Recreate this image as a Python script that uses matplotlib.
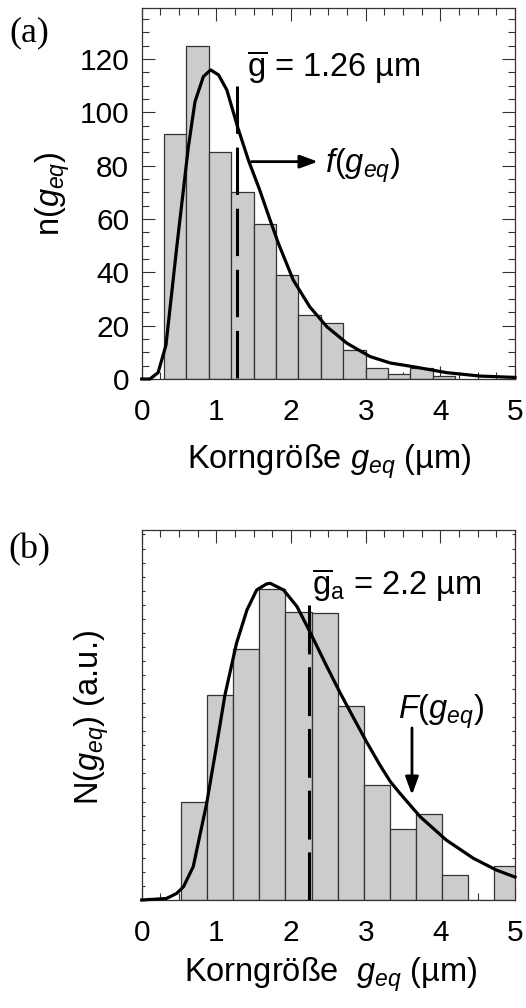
import matplotlib
matplotlib.use("Agg")
import matplotlib.pyplot as plt
from matplotlib.ticker import MultipleLocator, NullFormatter

plt.rcParams['font.family'] = ['Liberation Sans', 'DejaVu Sans']
plt.rcParams['mathtext.fontset'] = 'custom'
plt.rcParams['mathtext.rm'] = 'Liberation Sans'
plt.rcParams['mathtext.it'] = 'Liberation Sans:italic'
plt.rcParams['mathtext.bf'] = 'Liberation Sans:bold'

# ---------------- data panel (a) ----------------
bins_a_left = [0.3, 0.6, 0.9, 1.2, 1.5, 1.8, 2.1, 2.4, 2.7, 3.0, 3.3, 3.6, 3.9]
counts_a = [92, 125, 85, 70, 58, 39, 24, 21, 11, 4, 2, 4, 1]
bin_width_a = 0.3
fit_a_x = [0.0, 0.11, 0.22, 0.325, 0.47, 0.625, 0.714, 0.826, 0.924, 1.03, 1.14,
           1.29, 1.43, 1.58, 1.72, 1.83, 2.03, 2.25, 2.48, 2.75, 3.06, 3.33,
           3.64, 4.08, 4.53, 5.0]
fit_a_y = [0.0, 0.0, 2.4, 12.7, 49.6, 87.0, 104.0, 113.4, 115.9, 114.0, 108.4,
           94.0, 82.0, 70.9, 59.6, 50.9, 37.1, 27.1, 19.6, 13.4, 8.4, 6.0,
           4.6, 2.4, 1.1, 0.6]
mean_a_x = 1.28
mean_a_top = 110

# ---------------- data panel (b) ----------------
bins_b_left = [0.525, 0.875, 1.225, 1.575, 1.925, 2.275, 2.625, 2.975, 3.325,
               3.675, 4.025, 4.375, 4.725]
counts_b = [26.4, 55.4, 67.8, 84.1, 77.9, 77.7, 52.3, 31.1, 19.1, 23.2, 6.8, 0.0, 9.3]
bin_width_b = 0.35
fit_b_x = [0.0, 0.33, 0.47, 0.56, 0.69, 0.87, 1.0, 1.115, 1.27, 1.41, 1.54, 1.67,
           1.72, 1.90, 2.08, 2.24, 2.48, 2.66, 2.83, 3.01, 3.19, 3.33, 3.46,
           3.73, 4.08, 4.44, 4.75, 5.0]
fit_b_y = [0.0, 0.4, 1.8, 3.6, 9.0, 26.1, 41.4, 55.4, 69.4, 78.4, 83.8, 85.4,
           85.6, 83.8, 79.3, 73.0, 63.1, 55.9, 49.5, 42.8, 36.5, 32.0, 28.8,
           22.5, 16.2, 11.3, 8.1, 6.2]
mean_b_x = 2.245
mean_b_top = 79.7

xticks = [0, 1, 2, 3, 4, 5]

W, H = 526, 1008
fig = plt.figure(figsize=(W / 100, H / 100), dpi=100)

bar_face = '#cccccc'
bar_edge = '#333333'
spine_col = '#333333'
fs_tick = 21.5
fs_txt = 23.5
arrow_style = '-|>,head_length=0.6,head_width=0.22'


def style_axes(ax, ymajor, yminor, ylim, ylabels=True):
    ax.set_xlim(0, 5)
    ax.set_ylim(*ylim)
    ax.set_xticks(xticks)
    ax.xaxis.set_minor_locator(MultipleLocator(0.25))
    if ymajor is not None:
        ax.yaxis.set_major_locator(MultipleLocator(ymajor))
    ax.yaxis.set_minor_locator(MultipleLocator(yminor))
    ax.tick_params(which='both', direction='in', top=True, right=True,
                   color=spine_col, width=0.8)
    ax.tick_params(which='major', length=9.5)
    ax.tick_params(which='minor', length=5)
    ax.tick_params(axis='x', which='major', pad=14, labelsize=fs_tick)
    ax.tick_params(axis='y', which='major', pad=9, labelsize=fs_tick)
    if not ylabels:
        ax.yaxis.set_major_formatter(NullFormatter())
    for s in ax.spines.values():
        s.set_color(spine_col)
        s.set_linewidth(0.9)


# ---------------- panel (a) ----------------
ax1 = fig.add_axes([141.7 / W, 1 - 379 / H, (515 - 141.7) / W, (379 - 8.3) / H])
ax1.bar(bins_a_left, counts_a, width=bin_width_a, align='edge',
        color=bar_face, edgecolor=bar_edge, linewidth=0.9, zorder=2)
ax1.plot(fit_a_x, fit_a_y, color='black', lw=2.3, zorder=4, clip_on=False,
         solid_joinstyle='round')
ax1.plot([mean_a_x, mean_a_x], [mean_a_top, 0], color='black', lw=2.2,
         dashes=(15.5, 4.5), zorder=3)
style_axes(ax1, 20, 5, (0, 139))
ax1.annotate('', xy=(2.36, 81.5), xytext=(1.47, 81.5),
             arrowprops=dict(arrowstyle=arrow_style, color='black', lw=2,
                             mutation_scale=18, shrinkA=0, shrinkB=0))
ax1.text(2.45, 80, r'$\mathit{f(g_{eq})}$', fontsize=fs_txt, va='center', ha='left')
ax1.text(1.41, 117, r'$\overline{\mathrm{g}}$ = 1.26 µm', fontsize=fs_txt,
         va='center', ha='left')
fig.text(53 / W, 1 - 194 / H, r'n($g_{eq}$)', fontsize=fs_txt, rotation=90,
         ha='center', va='center')
fig.text(329 / W, 1 - 462 / H, r'Korngröße $g_{eq}$ (µm)', fontsize=fs_txt,
         ha='center', va='center')
fig.text(9 / W, 1 - 33 / H, '(a)', fontsize=26, family='Liberation Serif',
         ha='left', va='center')

# ---------------- panel (b) ----------------
ax2 = fig.add_axes([141.7 / W, 1 - 900 / H, (515 - 141.7) / W, (900 - 530) / H])
ax2.bar(bins_b_left, counts_b, width=bin_width_b, align='edge',
        color=bar_face, edgecolor=bar_edge, linewidth=0.9, zorder=2)
ax2.plot(fit_b_x, fit_b_y, color='black', lw=2.3, zorder=4, clip_on=False,
         solid_joinstyle='round')
ax2.plot([mean_b_x, mean_b_x], [mean_b_top, 0], color='black', lw=2.2,
         dashes=(16, 4.2), zorder=3)
style_axes(ax2, None, 3.8, (0, 100), ylabels=False)
ax2.set_yticks([])
ax2.yaxis.set_minor_locator(MultipleLocator(3.8))
ax2.tick_params(axis='y', which='minor', length=2.5, direction='in', right=True)
ax2.annotate('', xy=(3.62, 28.4), xytext=(3.62, 46.5),
             arrowprops=dict(arrowstyle=arrow_style, color='black', lw=2,
                             mutation_scale=18, shrinkA=0, shrinkB=0))
ax2.text(3.43, 51, r'$\mathit{F(g_{eq})}$', fontsize=fs_txt, va='center', ha='left')
ax2.text(2.28, 85, r'$\overline{\mathrm{g}}_{\mathrm{a}}$ = 2.2 µm', fontsize=fs_txt,
         va='center', ha='left')
fig.text(92 / W, 1 - 718 / H, r'N($g_{eq}$) (a.u.)', fontsize=fs_txt, rotation=90,
         ha='center', va='center')
fig.text(331 / W, 1 - 975 / H, r'Korngröße  $g_{eq}$ (µm)', fontsize=fs_txt,
         ha='center', va='center')
fig.text(8 / W, 1 - 550 / H, '(b)', fontsize=26, family='Liberation Serif',
         ha='left', va='center')

fig.savefig('out.png', dpi=100)
